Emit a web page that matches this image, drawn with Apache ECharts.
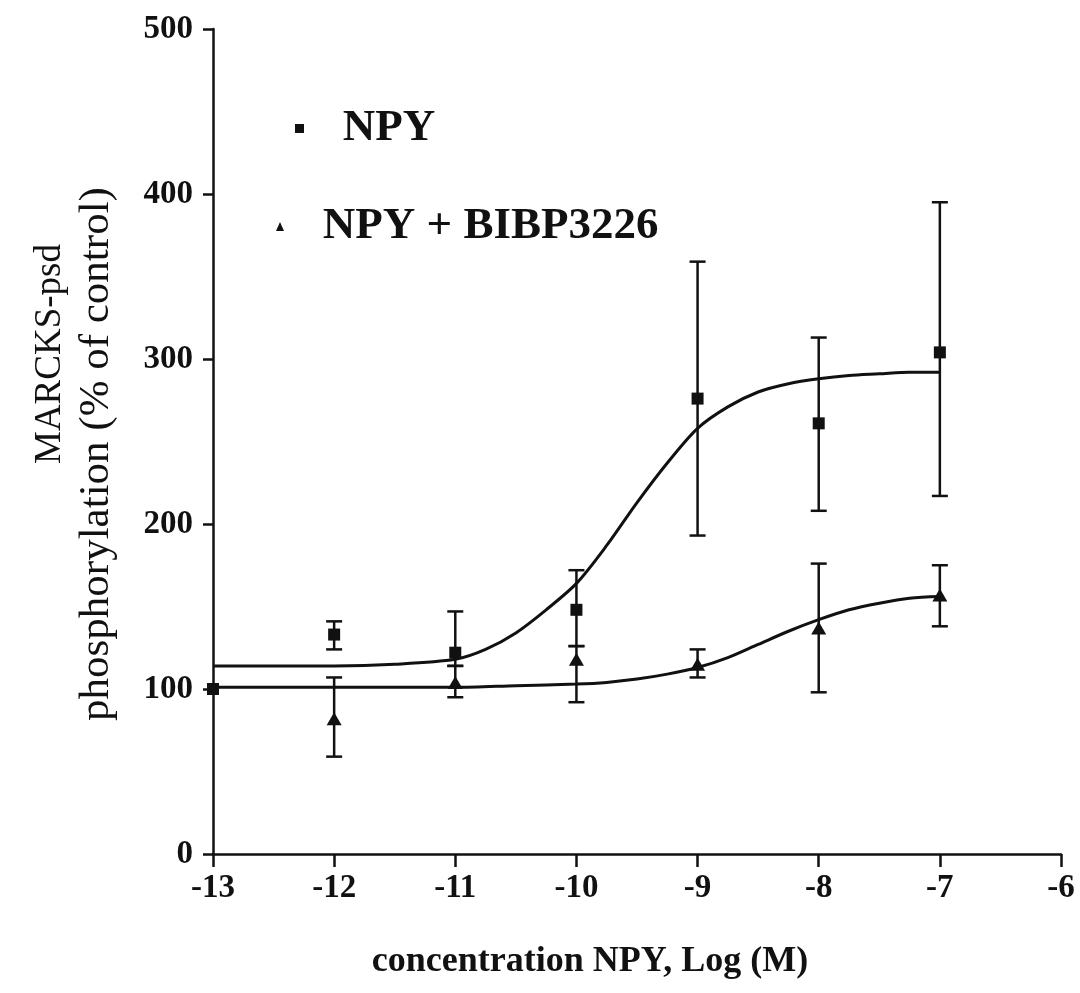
<!DOCTYPE html>
<html>
<head>
<meta charset="utf-8">
<script src="https://cdn.jsdelivr.net/npm/echarts@6/dist/echarts.min.js"></script>
<style>
  html, body { margin: 0; padding: 0; background: #fff; }
  #chart { width: 1080px; height: 993px; }
</style>
</head>
<body>
<div id="chart"></div>
<script>
// log concentration of NPY (M)
const npyX = [-13, -12, -11, -10, -9, -8, -7];
const npyMean = [100, 133, 122, 148, 276, 261, 304];
const npyHigh = [null, 141, 147, 172, 359, 313, 395];
const npyLow = [null, 124, 114, 126, 193, 208, 217];

// the -13 control point sits under the NPY square, so only -12 onwards
const bibpX = [-12, -11, -10, -9, -8, -7];
const bibpMean = [82, 104, 118, 115, 137, 157];
const bibpHigh = [107, 114, 126, 124, 176, 175];
const bibpLow = [59, 95, 92, 107, 98, 138];

// fitted curves
const npyFitX = [-13, -12.5, -12, -11.5, -11, -10.75, -10.5, -10.25, -10, -9.75, -9.5, -9.25, -9, -8.75, -8.5, -8.25, -8, -7.75, -7.5, -7.25, -7];
const npyFitY = [114, 114, 114, 115, 118, 124, 134, 148, 164, 187, 213, 237, 258, 271, 280, 285, 288, 290, 291, 292, 292];
const bibpFitX = [-13, -12, -11, -10.5, -10, -9.75, -9.5, -9.25, -9, -8.75, -8.5, -8.25, -8, -7.75, -7.5, -7.25, -7];
const bibpFitY = [101, 101, 101, 102, 103, 104, 106, 109, 113, 119, 127, 135, 142, 148, 152, 155, 156];

const xTicks = ['-13', '-12', '-11', '-10', '-9', '-8', '-7', '-6'];

const ink = '#111';
const serif = '"Liberation Serif", "DejaVu Serif", serif';

const zip = (a, b) => a.map((v, i) => [v, b[i]]);
const bars = (xs, lo, hi) => xs.map((x, i) => [x, lo[i], hi[i]]).filter(d => d[1] != null);

function errorBar(params, api) {
  const x = api.value(0);
  const top = api.coord([x, api.value(2)]);
  const bot = api.coord([x, api.value(1)]);
  const hw = 8;
  const style = { stroke: ink, lineWidth: 2.5 };
  return {
    type: 'group',
    children: [
      { type: 'line', shape: { x1: top[0], y1: top[1], x2: bot[0], y2: bot[1] }, style },
      { type: 'line', shape: { x1: top[0] - hw, y1: top[1], x2: top[0] + hw, y2: top[1] }, style },
      { type: 'line', shape: { x1: bot[0] - hw, y1: bot[1], x2: bot[0] + hw, y2: bot[1] }, style }
    ]
  };
}

const chart = echarts.init(document.getElementById('chart'), null, { renderer: 'canvas' });

const option = {
  animation: false,
  backgroundColor: '#fff',
  grid: { left: 213, right: 19, top: 29, bottom: 139, containLabel: false },
  legend: [
    {
      data: [{ name: 'NPY', icon: 'rect' }],
      left: 290, top: 101,
      itemWidth: 9, itemHeight: 9,
      formatter: n => '   ' + n,
      textStyle: { fontFamily: serif, fontWeight: 'bold', fontSize: 45, color: ink }
    },
    {
      data: [{ name: 'NPY + BIBP3226', icon: 'triangle' }],
      left: 271, top: 199,
      itemWidth: 8, itemHeight: 9,
      formatter: n => '   ' + n,
      textStyle: { fontFamily: serif, fontWeight: 'bold', fontSize: 45, color: ink }
    }
  ],
  xAxis: {
    type: 'value',
    min: -13, max: -6, interval: 1,
    axisLine: { onZero: false, lineStyle: { color: ink, width: 2.5 } },
    axisTick: { length: 13, lineStyle: { color: ink, width: 2.5 } },
    splitLine: { show: false },
    axisLabel: {
      margin: 18,
      color: ink, fontFamily: serif, fontWeight: 'bold', fontSize: 33,
      formatter: v => xTicks[Math.round(v + 13)]
    }
  },
  yAxis: {
    type: 'value',
    min: 0, max: 500, interval: 100,
    axisLine: { show: true, lineStyle: { color: ink, width: 2.5 } },
    axisTick: { show: true, length: 10, lineStyle: { color: ink, width: 2.5 } },
    splitLine: { show: false },
    axisLabel: { margin: 20, color: ink, fontFamily: serif, fontWeight: 'bold', fontSize: 33 }
  },
  graphic: [
    {
      type: 'text', x: 50, y: 354, rotation: Math.PI / 2,
      style: { text: 'MARCKS-psd', fill: ink, font: '37px ' + serif, textAlign: 'center', textVerticalAlign: 'middle' }
    },
    {
      type: 'text', x: 97, y: 454, rotation: Math.PI / 2,
      style: { text: 'phosphorylation (% of control)', fill: ink, font: '43px ' + serif, textAlign: 'center', textVerticalAlign: 'middle' }
    },
    {
      type: 'text', x: 590, y: 962,
      style: { text: 'concentration NPY, Log (M)', fill: ink, font: 'bold 36px ' + serif, textAlign: 'center', textVerticalAlign: 'middle' }
    }
  ],
  series: [
    {
      name: 'npy fit', type: 'line', smooth: 0.3, showSymbol: false, symbol: 'none',
      data: zip(npyFitX, npyFitY), lineStyle: { color: ink, width: 3 }, z: 2
    },
    {
      name: 'bibp fit', type: 'line', smooth: 0.3, showSymbol: false, symbol: 'none',
      data: zip(bibpFitX, bibpFitY), lineStyle: { color: ink, width: 3 }, z: 2
    },
    {
      name: 'npy err', type: 'custom', renderItem: errorBar,
      data: bars(npyX, npyLow, npyHigh), z: 2
    },
    {
      name: 'bibp err', type: 'custom', renderItem: errorBar,
      data: bars(bibpX, bibpLow, bibpHigh), z: 2
    },
    {
      name: 'NPY + BIBP3226', type: 'scatter', symbol: 'triangle', symbolSize: [15, 13],
      data: zip(bibpX, bibpMean), itemStyle: { color: ink, opacity: 1 }, z: 3
    },
    {
      name: 'NPY', type: 'scatter', symbol: 'rect', symbolSize: 12,
      data: zip(npyX, npyMean), itemStyle: { color: ink, opacity: 1 }, z: 4
    }
  ]
};

chart.setOption(option);
</script>
</body>
</html>
